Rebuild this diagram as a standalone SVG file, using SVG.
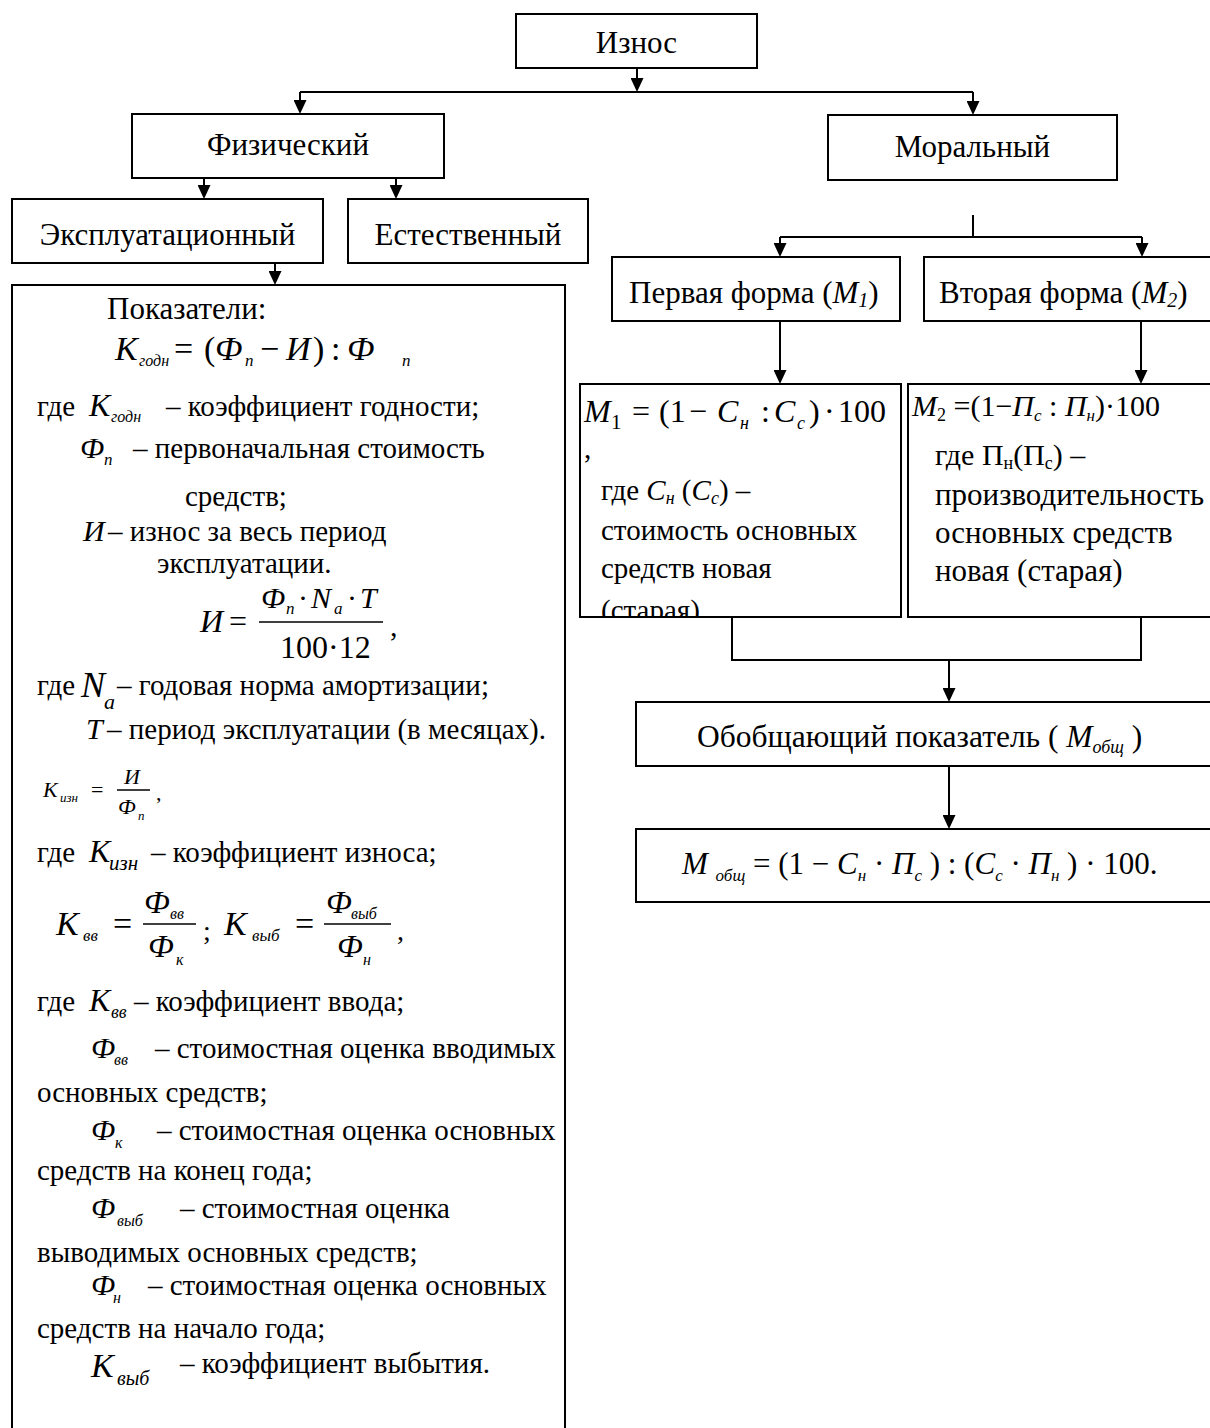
<svg xmlns="http://www.w3.org/2000/svg" width="1210" height="1428" viewBox="0 0 1210 1428">
<style>
.b{fill:#fff;stroke:#000;stroke-width:2}
.t{font-family:"Liberation Serif","DejaVu Serif",serif;fill:#000}
.i{font-style:italic}
.c line,.c polyline{stroke:#000;stroke-width:2;fill:none}
.fl{stroke:#000;stroke-width:1.5}
</style>
<defs>
<marker id="ah" viewBox="0 0 14 13" refX="10" refY="6.5" markerWidth="14" markerHeight="13" markerUnits="userSpaceOnUse" orient="auto">
<path d="M0,0 L14,6.5 L0,13 z" fill="#000"/>
</marker>
<clipPath id="m1clip"><rect x="581" y="385" width="319" height="231"/></clipPath>
</defs>
<rect width="1210" height="1428" fill="#fff"/>

<g id="connectors" class="c">
<line x1="637" y1="68" x2="637" y2="88" marker-end="url(#ah)"/>
<line x1="300" y1="92" x2="973" y2="92"/>
<line x1="300" y1="92" x2="300" y2="110" marker-end="url(#ah)"/>
<line x1="973" y1="92" x2="973" y2="111" marker-end="url(#ah)"/>
<line x1="204" y1="178" x2="204" y2="195" marker-end="url(#ah)"/>
<line x1="396" y1="178" x2="396" y2="195" marker-end="url(#ah)"/>
<line x1="275" y1="263" x2="275" y2="281" marker-end="url(#ah)"/>
<line x1="973" y1="215" x2="973" y2="237"/>
<line x1="780" y1="237" x2="1142" y2="237"/>
<line x1="780" y1="237" x2="780" y2="253" marker-end="url(#ah)"/>
<line x1="1142" y1="237" x2="1142" y2="253" marker-end="url(#ah)"/>
<line x1="780" y1="321" x2="780" y2="380" marker-end="url(#ah)"/>
<line x1="1141" y1="321" x2="1141" y2="380" marker-end="url(#ah)"/>
<polyline points="732,617 732,660 1141,660 1141,617"/>
<line x1="949" y1="660" x2="949" y2="698" marker-end="url(#ah)"/>
<line x1="949" y1="766" x2="949" y2="825" marker-end="url(#ah)"/>
</g>

<g id="iznos">
<rect class="b" x="516" y="14" width="241" height="54"/>
<text class="t" font-size="31" x="636.5" y="53" text-anchor="middle">Износ</text>
</g>

<g id="fizicheskiy">
<rect class="b" x="132" y="114" width="312" height="64"/>
<text class="t" font-size="31" x="288" y="155" text-anchor="middle">Физический</text>
</g>

<g id="moralnyy">
<rect class="b" x="828" y="115" width="289" height="65"/>
<text class="t" font-size="31" x="972.5" y="157" text-anchor="middle">Моральный</text>
</g>

<g id="ekspluatatsionnyy">
<rect class="b" x="12" y="199" width="311" height="64"/>
<text class="t" font-size="31" x="167.5" y="245" text-anchor="middle">Эксплуатационный</text>
</g>

<g id="estestvennyy">
<rect class="b" x="348" y="199" width="240" height="64"/>
<text class="t" font-size="31" x="468" y="245" text-anchor="middle">Естественный</text>
</g>

<g id="pokazateli">
<rect class="b" x="12" y="285" width="553" height="1160"/>
<text class="t" font-size="31" x="107" y="319">Показатели:</text>
<text class="t" font-size="34" y="360"><tspan class="i" x="115">К</tspan><tspan class="i" x="139" y="366" font-size="16">годн</tspan><tspan x="174" y="360">=</tspan><tspan x="204">(</tspan><tspan class="i" x="215">Ф</tspan><tspan class="i" x="245" y="366" font-size="17">п</tspan><tspan x="260" y="360">−</tspan><tspan class="i" x="286">И</tspan><tspan x="313">)</tspan><tspan x="331">:</tspan><tspan class="i" x="347">Ф</tspan><tspan class="i" x="402" y="366" font-size="17">п</tspan></text>
<text class="t" font-size="29" y="416"><tspan x="37">где</tspan><tspan class="i" x="89" font-size="32">К</tspan><tspan class="i" x="111" y="422" font-size="16">годн</tspan><tspan x="166" y="416">– коэффициент годности;</tspan></text>
<text class="t" font-size="29" y="458"><tspan class="i" x="80" font-size="30">Ф</tspan><tspan class="i" x="104" y="465" font-size="17">п</tspan><tspan x="133" y="458">– первоначальная стоимость</tspan></text>
<text class="t" font-size="29" x="185" y="506">средств;</text>
<text class="t" font-size="29" y="541"><tspan class="i" x="83" font-size="30">И</tspan><tspan x="108">– износ за весь период</tspan></text>
<text class="t" font-size="29" x="157" y="573">эксплуатации.</text>
<text class="t" font-size="32" y="632"><tspan class="i" x="200">И</tspan><tspan x="229">=</tspan></text>
<text class="t" font-size="30" y="608"><tspan class="i" x="261">Ф</tspan><tspan class="i" x="286" y="614" font-size="17">п</tspan><tspan x="298" y="608">·</tspan><tspan class="i" x="311">N</tspan><tspan class="i" x="334" y="614" font-size="17">a</tspan><tspan x="347" y="608">·</tspan><tspan class="i" x="360">T</tspan></text>
<line class="fl" x1="259" y1="622" x2="383" y2="622"/>
<text class="t" font-size="32" x="280" y="658">100·12</text>
<text class="t" font-size="30" x="390" y="636">,</text>
<text class="t" font-size="29" y="695"><tspan x="37">где</tspan><tspan class="i" x="81" y="697" font-size="36">N</tspan><tspan class="i" x="104" y="709" font-size="22">a</tspan><tspan x="117" y="695">– годовая норма амортизации;</tspan></text>
<text class="t" font-size="29" y="739"><tspan class="i" x="86" font-size="30">T</tspan><tspan x="107">– период эксплуатации (в месяцах).</tspan></text>
<text class="t" font-size="22" y="797"><tspan class="i" x="43">К</tspan><tspan class="i" x="60" y="802" font-size="13">изн</tspan><tspan x="91" y="797">=</tspan></text>
<text class="t i" font-size="22" x="124" y="784">И</text>
<line class="fl" x1="117" y1="790" x2="150" y2="790" stroke-width="1.2"/>
<text class="t" font-size="22" y="814"><tspan class="i" x="118">Ф</tspan><tspan class="i" x="138" y="820" font-size="13">п</tspan><tspan x="156" y="800">,</tspan></text>
<text class="t" font-size="29" y="862"><tspan x="37">где</tspan><tspan class="i" x="89" font-size="32">К</tspan><tspan class="i" x="109" y="870" font-size="21">изн</tspan><tspan x="151" y="862">– коэффициент износа;</tspan></text>
<text class="t" font-size="34" y="935"><tspan class="i" x="56">К</tspan><tspan class="i" x="83" y="941" font-size="17">вв</tspan><tspan x="113" y="935">=</tspan></text>
<text class="t" font-size="32" y="913"><tspan class="i" x="144">Ф</tspan><tspan class="i" x="170" y="919" font-size="16">вв</tspan></text>
<line class="fl" x1="143" y1="924" x2="196" y2="924"/>
<text class="t" font-size="32" y="957"><tspan class="i" x="148">Ф</tspan><tspan class="i" x="176" y="965" font-size="16">к</tspan></text>
<text class="t" font-size="28" x="203" y="940">;</text>
<text class="t" font-size="34" y="935"><tspan class="i" x="224">К</tspan><tspan class="i" x="252" y="941" font-size="17">выб</tspan><tspan x="295" y="935">=</tspan></text>
<text class="t" font-size="32" y="913"><tspan class="i" x="326">Ф</tspan><tspan class="i" x="351" y="919" font-size="16">выб</tspan></text>
<line class="fl" x1="324" y1="924" x2="391" y2="924"/>
<text class="t" font-size="32" y="957"><tspan class="i" x="337">Ф</tspan><tspan class="i" x="363" y="965" font-size="16">н</tspan></text>
<text class="t" font-size="28" x="397" y="940">,</text>
<text class="t" font-size="29" y="1011"><tspan x="37">где</tspan><tspan class="i" x="89" font-size="32">К</tspan><tspan class="i" x="111" y="1018" font-size="18">вв</tspan><tspan x="134" y="1011">– коэффициент ввода;</tspan></text>
<text class="t" font-size="29" y="1058"><tspan class="i" x="91" font-size="30">Ф</tspan><tspan class="i" x="114" y="1065" font-size="16">вв</tspan><tspan x="155" y="1058">– стоимостная оценка вводимых</tspan></text>
<text class="t" font-size="29" x="37" y="1102">основных средств;</text>
<text class="t" font-size="29" y="1140"><tspan class="i" x="91" font-size="30">Ф</tspan><tspan class="i" x="115" y="1148" font-size="16">к</tspan><tspan x="157" y="1140">– стоимостная оценка основных</tspan></text>
<text class="t" font-size="29" x="37" y="1180">средств на конец года;</text>
<text class="t" font-size="29" y="1218"><tspan class="i" x="91" font-size="30">Ф</tspan><tspan class="i" x="117" y="1226" font-size="16">выб</tspan><tspan x="180" y="1218">– стоимостная оценка</tspan></text>
<text class="t" font-size="29" x="37" y="1262">выводимых основных средств;</text>
<text class="t" font-size="29" y="1295"><tspan class="i" x="91" font-size="30">Ф</tspan><tspan class="i" x="113" y="1303" font-size="16">н</tspan><tspan x="148" y="1295">– стоимостная оценка основных</tspan></text>
<text class="t" font-size="29" x="37" y="1338">средств на начало года;</text>
<text class="t" font-size="29" y="1377"><tspan class="i" x="91" font-size="34">К</tspan><tspan class="i" x="117" y="1385" font-size="20">выб</tspan><tspan x="180" y="1373">– коэффициент выбытия.</tspan></text>
</g>

<g id="pervaya-forma">
<rect class="b" x="612" y="257" width="288" height="64"/>
<text class="t" font-size="31" x="629" y="303">Первая форма (<tspan class="i">M</tspan><tspan class="i" font-size="20" dy="4">1</tspan><tspan dy="-4">)</tspan></text>
</g>

<g id="vtoraya-forma">
<rect class="b" x="924" y="257" width="300" height="64"/>
<text class="t" font-size="31" x="939" y="303">Вторая форма (<tspan class="i">M</tspan><tspan class="i" font-size="20" dy="4">2</tspan><tspan dy="-4">)</tspan></text>
</g>

<g id="m1">
<rect class="b" x="580" y="384" width="321" height="233"/>
<text class="t" font-size="32" y="422"><tspan class="i" x="584">M</tspan><tspan x="611" y="429" font-size="21">1</tspan><tspan x="632" y="422">=</tspan><tspan x="659">(1</tspan><tspan x="689">−</tspan><tspan class="i" x="717">C</tspan><tspan class="i" x="740" y="429" font-size="18">н</tspan><tspan x="761" y="422">:</tspan><tspan class="i" x="774">C</tspan><tspan class="i" x="797" y="429" font-size="18">c</tspan><tspan x="809" y="422">)</tspan><tspan x="824">·</tspan><tspan x="838">100</tspan></text>
<text class="t" font-size="29" x="584" y="458">,</text>
<g clip-path="url(#m1clip)">
<text class="t" font-size="29" x="601" y="500">где <tspan class="i">C</tspan><tspan class="i" font-size="18" dy="4">н</tspan><tspan dy="-4"> (</tspan><tspan class="i">C</tspan><tspan class="i" font-size="18" dy="4">c</tspan><tspan dy="-4">) –</tspan></text>
<text class="t" font-size="29" x="601" y="540">стоимость основных</text>
<text class="t" font-size="29" x="601" y="578">средств новая</text>
<text class="t" font-size="29" x="601" y="620">(старая)</text>
</g>
</g>

<g id="m2">
<rect class="b" x="908" y="384" width="310" height="233"/>
<text class="t" font-size="30" x="912" y="416"><tspan class="i">M</tspan><tspan font-size="18" dy="5">2</tspan><tspan dy="-5"> =(1−</tspan><tspan class="i">П</tspan><tspan class="i" font-size="17" dy="5">c</tspan><tspan dy="-5"> : </tspan><tspan class="i">П</tspan><tspan class="i" font-size="17" dy="5">н</tspan><tspan dy="-5">)·100</tspan></text>
<text class="t" font-size="30" x="935" y="465">где П<tspan font-size="18" dy="4">н</tspan><tspan dy="-4">(П</tspan><tspan font-size="18" dy="4">с</tspan><tspan dy="-4">) –</tspan></text>
<text class="t" font-size="31" x="935" y="505">производительность</text>
<text class="t" font-size="31" x="935" y="543">основных средств</text>
<text class="t" font-size="31" x="935" y="581">новая (старая)</text>
</g>

<g id="obobshchayushchiy">
<rect class="b" x="636" y="702" width="590" height="64"/>
<text class="t" font-size="31.5" x="697" y="747">Обобщающий показатель ( <tspan class="i">M</tspan><tspan class="i" font-size="18" dy="6">общ</tspan><tspan dy="-6"> )</tspan></text>
</g>

<g id="formula-obshch">
<rect class="b" x="636" y="829" width="590" height="73"/>
<text class="t" font-size="31" x="682" y="874"><tspan class="i">M </tspan><tspan class="i" font-size="17" dy="7">общ</tspan><tspan dy="-7"> = (1 − </tspan><tspan class="i">C</tspan><tspan class="i" font-size="17" dy="7">н</tspan><tspan dy="-7"> · </tspan><tspan class="i">П</tspan><tspan class="i" font-size="17" dy="7">c</tspan><tspan dy="-7"> ) : (</tspan><tspan class="i">C</tspan><tspan class="i" font-size="17" dy="7">c</tspan><tspan dy="-7"> · </tspan><tspan class="i">П</tspan><tspan class="i" font-size="17" dy="7">н</tspan><tspan dy="-7"> ) · 100.</tspan></text>
</g>
</svg>
